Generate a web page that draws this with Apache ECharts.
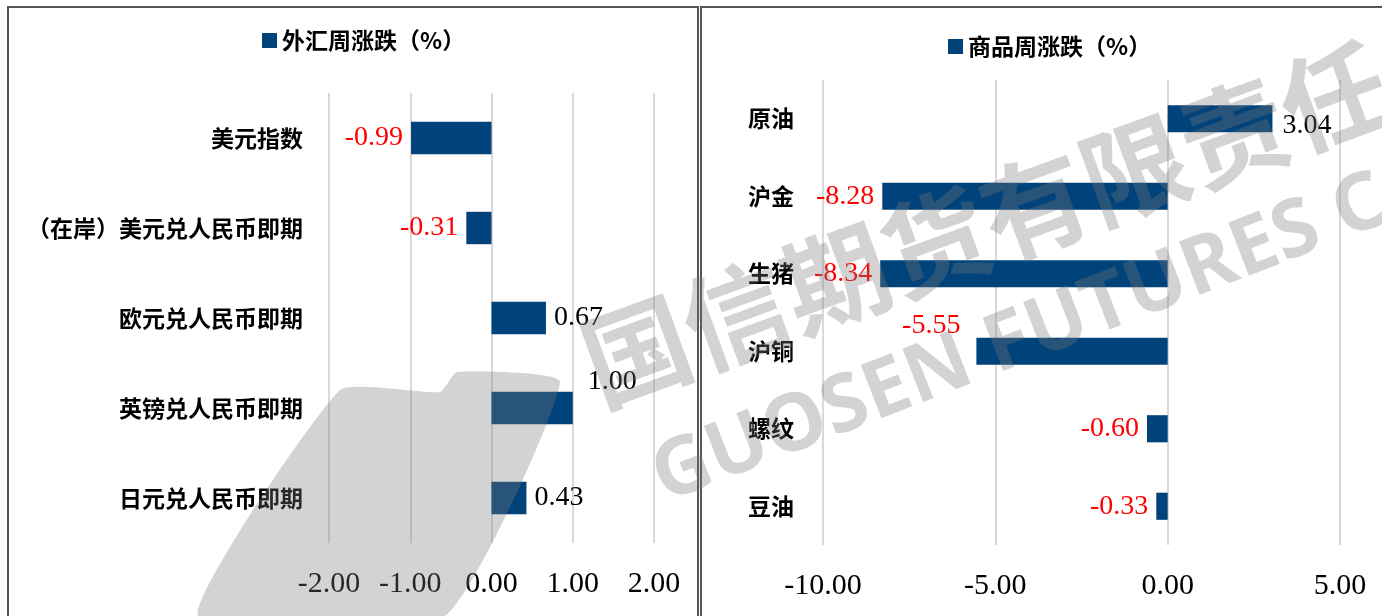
<!DOCTYPE html>
<html>
<head>
<meta charset="utf-8">
<script src="https://cdn.jsdelivr.net/npm/echarts@6/dist/echarts.min.js"></script>
<style>
html,body{margin:0;padding:0;background:#fff;}
#c{width:1382px;height:616px;}
</style>
</head>
<body>
<div id="c"></div>
<script>
// ---- data ----
const fxName = '外汇周涨跌（%）';
const fxCats = ['美元指数', '（在岸）美元兑人民币即期', '欧元兑人民币即期', '英镑兑人民币即期', '日元兑人民币即期'];
const fxVals = [-0.99, -0.31, 0.67, 1.00, 0.43];
const fxAxis = { min: -2, max: 2, interval: 1 };

const cmName = '商品周涨跌（%）';
const cmCats = ['原油', '沪金', '生猪', '沪铜', '螺纹', '豆油'];
const cmVals = [3.04, -8.28, -8.34, -5.55, -0.60, -0.33];
const cmAxis = { min: -10, max: 5, interval: 5 };

// ---- styling ----
const BAR = '#00427a';
const NUMFONT = '"Liberation Serif", "DejaVu Serif", serif';
const CJK = '"Noto Sans CJK SC", sans-serif';

// label placement tweaks (by index), kept separate from data
const fxLabelTweaks = { 3: { offset: [0, -26], distance: 15 } };
const cmLabelTweaks = { 0: { offset: [2, 7] }, 3: { offset: [0, -26], distance: 16 } };

function buildData(vals, tweaks) {
  return vals.map((v, i) => {
    const t = tweaks[i] || {};
    return {
      value: v,
      label: {
        show: true,
        position: v < 0 ? 'left' : 'right',
        distance: t.distance != null ? t.distance : 8,
        offset: t.offset || [0, 0],
        color: v < 0 ? '#ff0000' : '#000000',
        fontFamily: NUMFONT,
        fontSize: 28,
        formatter: p => Number(p.value).toFixed(2)
      }
    };
  });
}

const chart = echarts.init(document.getElementById('c'), null, { renderer: 'canvas' });

const valueAxis = (ax, gi) => ({
  type: 'value', gridIndex: gi, min: ax.min, max: ax.max, interval: ax.interval,
  axisLine: { show: false }, axisTick: { show: false },
  splitLine: { show: true, lineStyle: { color: '#d9d9d9', width: 2 } },
  axisLabel: { margin: 26, color: '#000', fontFamily: NUMFONT, fontSize: 30,
    formatter: v => v.toFixed(2) }
});

const WM = 'rgba(120,120,120,0.33)';

chart.setOption({
  animation: false,
  backgroundColor: '#ffffff',
  legend: [
    { data: [fxName], left: 257, top: 24, icon: 'rect', itemWidth: 15, itemHeight: 15, itemGap: 6,
      textStyle: { fontFamily: CJK, fontWeight: 'bold', fontSize: 23, color: '#000' } },
    { data: [cmName], left: 943, top: 30, icon: 'rect', itemWidth: 15, itemHeight: 15, itemGap: 6,
      textStyle: { fontFamily: CJK, fontWeight: 'bold', fontSize: 23, color: '#000' } }
  ],
  grid: [
    { left: 329, right: 1382 - 654, top: 93, bottom: 616 - 543 },
    { left: 823, right: 1382 - 1340, top: 80, bottom: 616 - 545 }
  ],
  xAxis: [valueAxis(fxAxis, 0), valueAxis(cmAxis, 1)],
  yAxis: [
    { type: 'category', gridIndex: 0, data: fxCats, inverse: true,
      axisLine: { show: false }, axisTick: { show: false },
      axisLabel: { margin: 26, color: '#000', fontFamily: CJK, fontWeight: 'bold', fontSize: 23 } },
    { type: 'category', gridIndex: 1, data: cmCats, inverse: true,
      axisLine: { show: false }, axisTick: { show: false },
      axisLabel: { margin: 75, align: 'left', color: '#000', fontFamily: CJK, fontWeight: 'bold', fontSize: 23 } }
  ],
  series: [
    { name: fxName, type: 'bar', xAxisIndex: 0, yAxisIndex: 0, barWidth: '36%',
      itemStyle: { color: BAR }, data: buildData(fxVals, fxLabelTweaks) },
    { name: cmName, type: 'bar', xAxisIndex: 1, yAxisIndex: 1, barWidth: '35%',
      itemStyle: { color: BAR }, data: buildData(cmVals, cmLabelTweaks) }
  ],
  graphic: [
    // panel borders
    { type: 'polyline', z: 0, silent: true,
      shape: { points: [[8, 620], [8, 7], [698, 7], [698, 620]] },
      style: { stroke: '#555', lineWidth: 2, fill: null } },
    { type: 'polyline', z: 0, silent: true,
      shape: { points: [[701, 620], [701, 7], [1390, 7]] },
      style: { stroke: '#555', lineWidth: 2, fill: null } },
    // watermark (decorative)
    { type: 'polygon', z: 50, silent: true,
      shape: { points: [[340, 390], [440, 392], [457, 372], [560, 382], [445, 616], [198, 616]], smooth: 0.15 },
      style: { fill: WM } },
    { type: 'text', z: 50, silent: true, x: 985, y: 224, rotation: 0.35,
      style: { text: '国信期货有限责任', fill: WM, font: 'bold 106px "Noto Sans CJK SC"',
        align: 'center', verticalAlign: 'middle' } },
    { type: 'text', z: 50, silent: true, x: 1020, y: 340, rotation: 0.37,
      style: { text: 'GUOSEN FUTURES C', fill: WM, font: 'bold 80px "Noto Sans"',
        align: 'center', verticalAlign: 'middle' } }
  ]
});
</script>
</body>
</html>
